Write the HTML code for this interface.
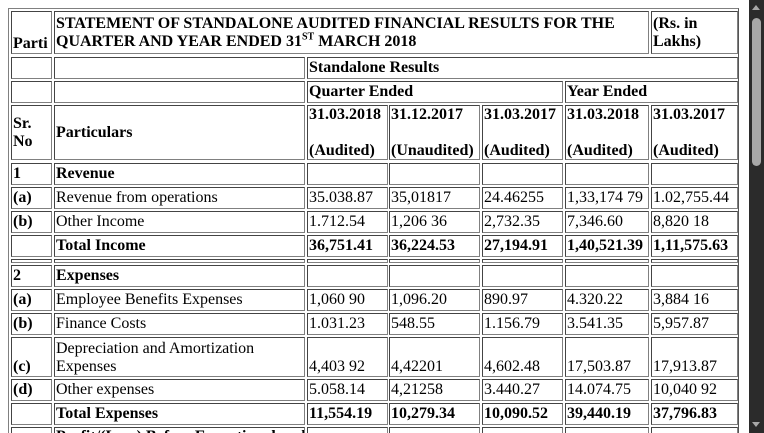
<!DOCTYPE html>
<html><head><meta charset="utf-8">
<style>
html,body{margin:0;padding:0;width:764px;height:433px;overflow:hidden;background:#fff;}
#wrap{position:relative;width:764px;height:433px;overflow:hidden;font-family:"Liberation Serif",serif;font-size:16px;color:#000;}
.outer{position:absolute;left:8px;top:8px;width:731px;height:425px;border:1px solid #808080;border-right-color:#555;border-bottom:none;box-sizing:border-box;}
.c{position:absolute;box-sizing:border-box;border:1px solid #808080;border-top-color:#444;border-left-color:#444;padding:0 1px;line-height:18px;white-space:nowrap;overflow:hidden;display:flex;}
.b{font-weight:bold;}
.mid{align-items:center;}
.bot{align-items:flex-end;}
.top{align-items:flex-start;}
.tp{align-items:flex-start;border-bottom:none;}
#sb{position:absolute;left:749px;top:0;width:15px;height:433px;background:#2b2b2b;}
#thumb{position:absolute;left:3px;top:18px;width:9px;height:148px;background:#a8a8a8;border-radius:5px;}
.arr{position:absolute;left:3px;width:0;height:0;border-left:4.5px solid transparent;border-right:4.5px solid transparent;}
</style></head>
<body>
<div id="wrap">
<div class="outer"></div>
</div>
<div id="sb">
<div class="arr" style="top:5px;border-bottom:5px solid #a8a8a8;"></div>
<div id="thumb"></div>
<div class="arr" style="top:422px;border-top:5px solid #a8a8a8;"></div>
</div>
<script>
const X=[[11,52],[54,305],[307,388],[389,480],[482,563],[565,649],[651,738]];
const rows=[
[11,43,[[0,0,"Parti","b bot"],[1,5,"STATEMENT OF STANDALONE AUDITED FINANCIAL RESULTS FOR THE<br>QUARTER AND YEAR ENDED 31<sup style='font-size:10px;line-height:0'>ST</sup> MARCH 2018","b mid"],[6,6,"(Rs. in<br>Lakhs)","b mid"]]],
[57,22,[[0,0,"",""],[1,1,"",""],[2,6,"Standalone Results","b mid"]]],
[81,22,[[0,0,"",""],[1,1,"",""],[2,4,"Quarter Ended","b mid"],[5,6,"Year Ended","b mid"]]],
[105,55,[[0,0,"Sr.<br>No","b mid"],[1,1,"Particulars","b mid"],[2,2,"31.03.2018<br><br>(Audited)","b top"],[3,3,"31.12.2017<br><br>(Unaudited)","b top"],[4,4,"31.03.2017<br><br>(Audited)","b top"],[5,5,"31.03.2018<br><br>(Audited)","b top"],[6,6,"31.03.2017<br><br>(Audited)","b top"]]],
[163,22,"1|Revenue|||||",1],
[187,22,"(a)|Revenue from operations|35.038.87|35,01817|24.46255|1,33,174 79|1.02,755.44",0],
[211,22,"(b)|Other Income|1.712.54|1,206 36|2,732.35|7,346.60|8,820 18",0],
[235,22,"|Total Income|36,751.41|36,224.53|27,194.91|1,40,521.39|1,11,575.63",1],
[259,4,"||||||",0],
[265,22,"2|Expenses|||||",1],
[289,22,"(a)|Employee Benefits Expenses|1,060 90|1,096.20|890.97|4.320.22|3,884 16",0],
[313,22,"(b)|Finance Costs|1.031.23|548.55|1.156.79|3.541.35|5,957.87",0],
[337,40,"(c)|Depreciation and Amortization<br>Expenses|4,403 92|4,42201|4,602.48|17,503.87|17,913.87",0],
[379,22,"(d)|Other expenses|5.058.14|4,21258|3.440.27|14.074.75|10,040 92",0],
[403,22,"|Total Expenses|11,554.19|10,279.34|10,090.52|39,440.19|37,796.83",1],
[427,6,"|Profit/(Loss) Before Exceptional and|||||",2]
];
const wrap=document.getElementById('wrap');
rows.forEach((r,ri)=>{
  let cells=r[2];
  if(typeof cells==="string"){
    const parts=cells.split("|");
    const bold=r[3];
    const al=bold===2?"tp":(r[1]>30?"bot":"mid");
    cells=parts.map((t,i)=>[i,i,t,(i==0||bold?"b ":"")+al]);
  }
  cells.forEach(cl=>{
    if(!X[cl[0]]||!X[cl[1]]) return;
    const d=document.createElement('div');
    d.className="c "+cl[3];
    d.style.left=X[cl[0]][0]+"px";
    d.style.top=r[0]+"px";
    d.style.width=(X[cl[1]][1]-X[cl[0]][0])+"px";
    d.style.height=r[1]+"px";
    d.innerHTML="<span>"+cl[2]+"</span>";
    
    
    wrap.appendChild(d);
  });
});
</script>
</body></html>
